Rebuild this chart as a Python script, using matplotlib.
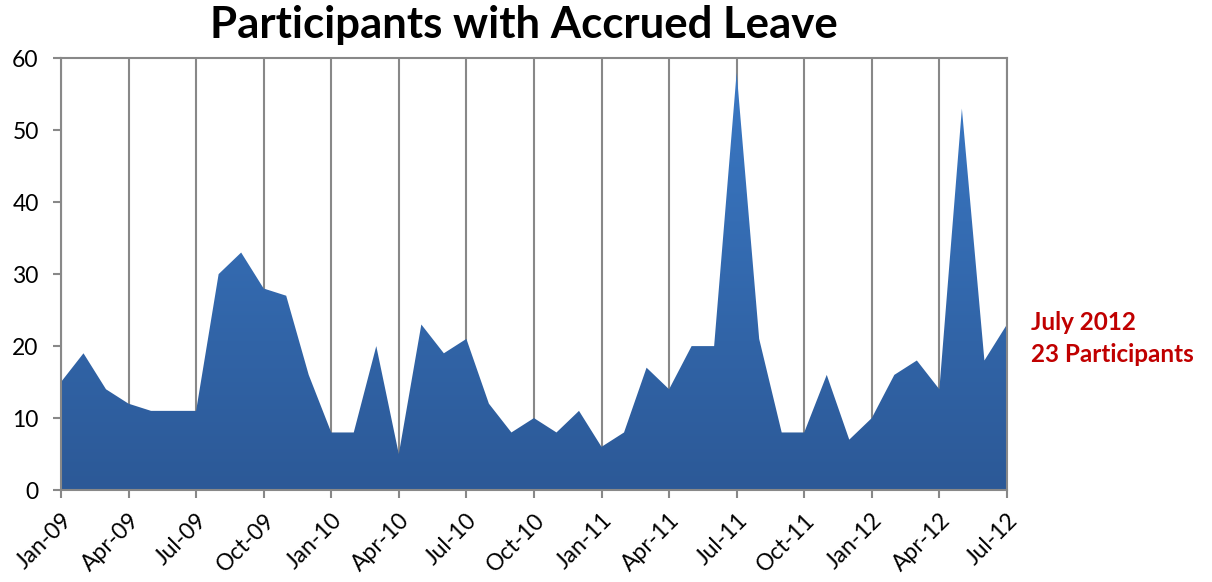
import numpy as np
import matplotlib.pyplot as plt
from matplotlib.colors import LinearSegmentedColormap

# Données mensuelles, janv. 2009 à juil. 2012
mois = ['Jan-09', 'Feb-09', 'Mar-09', 'Apr-09', 'May-09', 'Jun-09', 'Jul-09', 'Aug-09', 'Sep-09',
        'Oct-09', 'Nov-09', 'Dec-09', 'Jan-10', 'Feb-10', 'Mar-10', 'Apr-10', 'May-10', 'Jun-10',
        'Jul-10', 'Aug-10', 'Sep-10', 'Oct-10', 'Nov-10', 'Dec-10', 'Jan-11', 'Feb-11', 'Mar-11',
        'Apr-11', 'May-11', 'Jun-11', 'Jul-11', 'Aug-11', 'Sep-11', 'Oct-11', 'Nov-11', 'Dec-11',
        'Jan-12', 'Feb-12', 'Mar-12', 'Apr-12', 'May-12', 'Jun-12', 'Jul-12']
participants = [15, 19, 14, 12, 11, 11, 11, 30, 33, 28, 27, 16, 8, 8, 20, 5, 23, 19,
                21, 12, 8, 10, 8, 11, 6, 8, 17, 14, 20, 20, 58, 21, 8, 8, 16, 7,
                10, 16, 18, 14, 53, 18, 23]

plt.rcParams['font.family'] = ['Lato', 'DejaVu Sans']

x = np.arange(len(mois))
fig = plt.figure(figsize=(12.12, 5.82), dpi=100)
ax = fig.add_axes([0.0503, 0.158, 0.7805, 0.742])

# aire avec dégradé vertical
aire = ax.fill_between(x, participants, 0, color='#3470b8', lw=0)
degrade = LinearSegmentedColormap.from_list('bleu', ['#2c5997', '#3a78c4'])
img = ax.imshow(np.linspace(0, 1, 256).reshape(-1, 1), cmap=degrade, origin='lower',
                aspect='auto', extent=[0, len(mois) - 1, 0, max(participants)], zorder=2)
img.set_clip_path(aire.get_paths()[0], transform=ax.transData)
aire.set_alpha(0)

ax.set_xlim(0, len(mois) - 1)
ax.set_ylim(0, 60)
ax.set_yticks(range(0, 61, 10))
ax.set_xticks(x[::3])
ax.set_xticklabels(mois[::3], rotation=45, ha='right', rotation_mode='anchor')
ax.tick_params(axis='both', colors='#888888', labelcolor='black', labelsize=16.5, length=6, width=1.5)
ax.tick_params(axis='y', pad=10)
ax.tick_params(axis='x', pad=8)
ax.grid(axis='x', color='#888888', lw=1.5, zorder=1)
ax.set_axisbelow(True)
for s in ax.spines.values():
    s.set_color('#888888')
    s.set_linewidth(1.5)

fig.text(0.432, 0.957, 'Participants with Accrued Leave', ha='center', va='center',
         fontsize=31.5, fontweight='bold')
fig.text(0.851, 0.418, 'July 2012\n23 Participants', ha='left', va='center',
         fontsize=17.5, fontweight='bold', color='#c00000', linespacing=1.45)

fig.savefig('out.png', dpi=100)
